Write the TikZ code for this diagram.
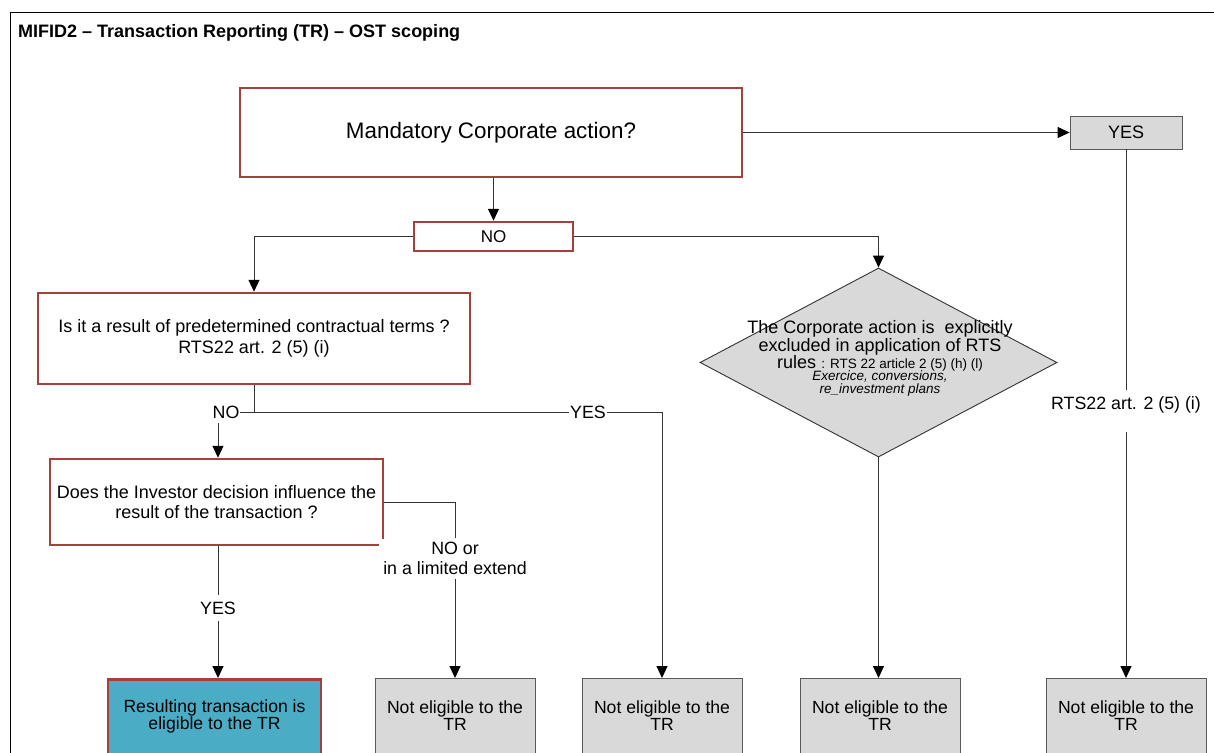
\documentclass[tikz,border=0pt]{standalone}
\usepackage{fontspec}
\setmainfont{Liberation Sans}
\usetikzlibrary{arrows.meta,shapes.geometric,calc}
\definecolor{redb}{HTML}{A3413A}
\definecolor{tealf}{HTML}{4BACC6}
\definecolor{grayf}{HTML}{D9D9D9}
\begin{document}
\begin{tikzpicture}[x=1pt,y=-1pt,
  redbox/.style={draw=redb,line width=2.5pt,fill=white,inner sep=0pt,align=center},
  graybox/.style={draw=black!65,line width=0.9pt,fill=grayf,inner sep=0pt,align=center},
  txt/.style={inner sep=0pt,align=center,font=\fontsize{17.6}{17}\selectfont},
  lbl/.style={fill=white,inner sep=2pt,align=center,font=\fontsize{17.8}{20}\selectfont},
  ln/.style={line width=1pt,draw=black!80},
  arr/.style={ln,-{Triangle[length=12pt,width=11pt,color=black]}}]
\useasboundingbox (0,0) rectangle (1214,752);
\clip (0,0) rectangle (1214,752);
% frame
\draw[line width=0.9pt] (10,770) -- (10,12) -- (1230,12);
\node[anchor=west,inner sep=0pt,font=\bfseries\fontsize{18}{20}\selectfont] (title) at (18,33) {MIFID2 – Transaction Reporting (TR) – OST scoping};
% top nodes
\node[redbox,minimum width=502pt,minimum height=89pt,font=\fontsize{22.4}{24}\selectfont] (mand) at (491,132.5) {Mandatory Corporate action?};
\node[redbox,minimum width=159pt,minimum height=29pt,font=\fontsize{17}{18}\selectfont] (no) at (493.5,236.5) {NO};
\node[graybox,minimum width=112pt,minimum height=33pt,font=\fontsize{18}{20}\selectfont] (yes) at (1126,132.5) {YES};
% questions
\node[redbox,minimum width=432pt,minimum height=91pt,font=\fontsize{18}{21}\selectfont] (q2) at (254,338.5) {Is it a result of predetermined contractual terms ?\\RTS22 art. 2 (5) (i)};
\node[redbox,minimum width=333pt,minimum height=86pt,font=\fontsize{18}{19.5}\selectfont] (q3) at (216.5,502) {Does the Investor decision influence the\\result of the transaction ?};
\fill[white] (379,539) rectangle (390,549);
% diamond
\node[diamond,draw=black!80,line width=0.9pt,fill=grayf,minimum width=357pt,minimum height=189pt,inner sep=0pt] (dia) at (878.5,362.5) {};
\node[inner sep=0pt,align=center,font=\fontsize{18}{18}\selectfont] (diat) at (880,358) {The Corporate action is\ \ explicitly\\excluded in application of RTS\\[-1pt]rules {\fontsize{13.5}{13}\selectfont : RTS 22 article 2 (5) (h) (l)}\\[-6pt]{\fontsize{13.5}{13}\selectfont\itshape Exercice, conversions,}\\[-5pt]{\fontsize{13.5}{13}\selectfont\itshape re\_investment plans}};
% bottom boxes
\node[redbox,fill=tealf,anchor=north,minimum width=213pt,minimum height=90pt] (res) at (214.5,678) {};
\node[txt] (rest) at (214.5,716) {Resulting transaction is\\eligible to the TR};
\node[graybox,anchor=north,minimum width=160pt,minimum height=90pt] (n1) at (455,678) {};
\node[txt] (n1t) at (455,716) {Not eligible to the\\TR};
\node[graybox,anchor=north,minimum width=160pt,minimum height=90pt] (n2) at (662,678) {};
\node[txt] (n2t) at (662,716) {Not eligible to the\\TR};
\node[graybox,anchor=north,minimum width=160pt,minimum height=90pt] (n3) at (880,678) {};
\node[txt] (n3t) at (880,716) {Not eligible to the\\TR};
\node[graybox,anchor=north,minimum width=160pt,minimum height=90pt] (n4) at (1126,678) {};
\node[txt] (n4t) at (1126,716) {Not eligible to the\\TR};
% junction coordinates
\coordinate (j1) at (254,412.5);
\coordinate (j2) at (218,412.5);
\coordinate (j3) at (662,412.5);
\coordinate (j4) at (455,502);
\coordinate (g1) at (1126,390);
\coordinate (g2) at (1126,432);
\coordinate (g3) at (455,538);
\coordinate (g4) at (455,579);
\coordinate (g5) at (218,423);
% connectors
\draw[arr] (mand.south -| no.north) -- (no.north);
\draw[arr] (mand.east) -- (yes.west |- mand.east);
\draw[arr] (no.west) -| (q2.north);
\draw[arr] (no.east) -| (dia.north);
\draw[ln] (yes.south) -- (g1);
\node[inner sep=0pt,font=\fontsize{17.8}{20}\selectfont] (l5) at (1126,405) {RTS22 art. 2 (5) (i)};
\draw[arr] (g2) -- (n4.north);
\draw[ln] (q2.south) -- (j1) -- (j2);
\node[lbl,inner sep=1pt] (l6) at (226,412.5) {NO};
\draw[arr] (g5) -- (q3.north -| g5);
\draw[arr] (j1) -- (j3) -- (n2.north);
\node[lbl,inner sep=1pt] (l7) at (588,412.5) {YES};
\draw[ln] (q3.east |- j4) -- (j4) -- (g3);
\node[inner sep=0pt,align=center,font=\fontsize{17.8}{20}\selectfont] (l8) at (455,558) {NO or\\in a limited extend};
\draw[arr] (g4) -- (n1.north);
\draw[arr] (q3.south -| j2) -- node[lbl,pos=0.47,inner ysep=7pt] (l9) {YES} (res.north -| j2);
\draw[arr] (dia.south) -- (n3.north -| dia.south);
\end{tikzpicture}
\end{document}
